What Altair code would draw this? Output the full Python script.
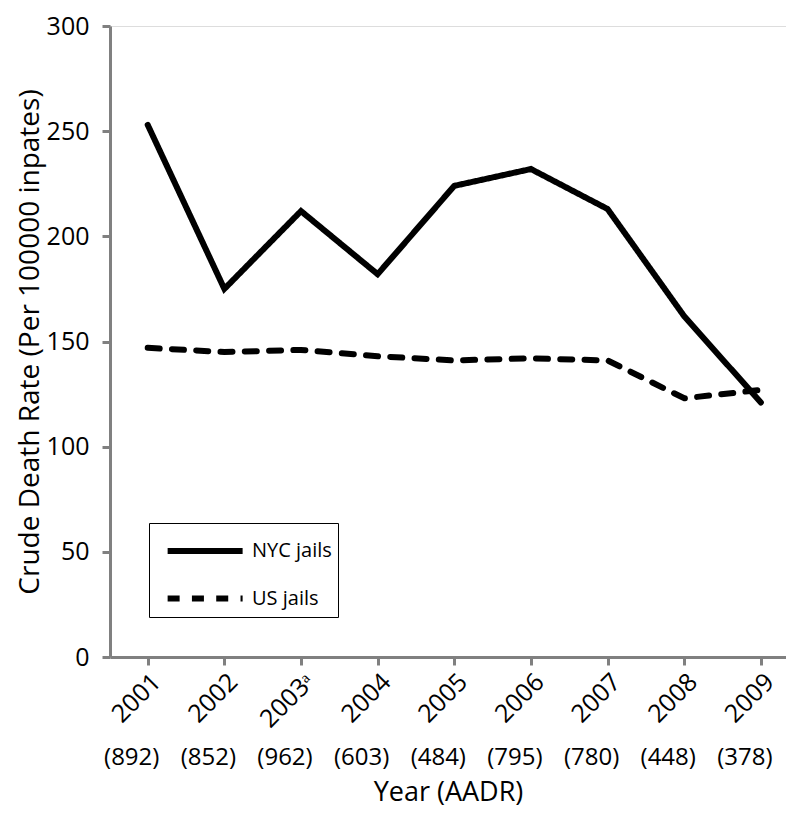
import altair as alt
import pandas as pd

years = ["2001", "2002", "2003ᵃ", "2004", "2005", "2006", "2007", "2008", "2009"]
counts = ["(892)", "(852)", "(962)", "(603)", "(484)", "(795)", "(780)", "(448)", "(378)"]
nyc = [253, 175, 212, 182, 224, 232, 213, 162, 121]
us = [147, 145, 146, 143, 141, 142, 141, 123, 127]
series = ["NYC jails", "US jails"]

rows = []
for y, v in zip(years, nyc):
    rows.append({"year": y, "rate": v, "series": series[0]})
for y, v in zip(years, us):
    rows.append({"year": y, "rate": v, "series": series[1]})
df = pd.DataFrame(rows)
cdf = pd.DataFrame({"year": years, "count": counts})

W, H = 676, 631
font = "Open Sans"

xscale = alt.Scale(domain=years, padding=0.41, align=0.6)

lines = alt.Chart(df).mark_line(color="black", strokeWidth=6, strokeCap="round", strokeJoin="miter").encode(
    x=alt.X("year:N", scale=xscale, sort=years,
            axis=alt.Axis(title="Year (AADR)", labelAngle=-45, labelFont=font, labelFontSize=25,
                          labelColor="black", domainColor="#808080", domainWidth=3, tickColor="#808080",
                          tickWidth=3, tickSize=8, labelPadding=4, titleFont=font, titleFontSize=27,
                          titleFontWeight="normal", titleColor="black", titlePadding=48)),
    y=alt.Y("rate:Q", scale=alt.Scale(domain=[0, 300], nice=False),
            axis=alt.Axis(title="Crude Death Rate (Per 100000 inpates)", values=[0, 50, 100, 150, 200, 250, 300],
                          labelFont=font, labelFontSize=25, labelColor="black", domainColor="#808080",
                          domainWidth=3, tickColor="#808080", tickWidth=3, tickSize=8, labelPadding=13,
                          grid=False, titleFont=font, titleFontSize=28, titleFontWeight="normal",
                          titleColor="black", titlePadding=2)),
    strokeDash=alt.StrokeDash("series:N", scale=alt.Scale(domain=series, range=[[1, 0], [12, 12.3]]),
                              legend=alt.Legend(title=None, orient="none", legendX=39, legendY=497,
                                                symbolType="M-0.5,0L3.5,0", symbolSize=1406, symbolStrokeWidth=6,
                                                symbolStrokeColor="black", labelFont=font,
                                                labelFontSize=20, labelColor="black", rowPadding=13.5,
                                                padding=6, strokeColor="black", fillColor="white",
                                                labelOffset=53, labelExpr="datum.label + '   '")),
)

count_text = alt.Chart(cdf).mark_text(font=font, fontSize=24, color="black", dx=-16).encode(
    x=alt.X("year:N", scale=xscale, sort=years),
    y=alt.value(H + 101),
    text="count:N",
)

chart = alt.layer(lines, count_text).properties(
    width=W, height=H,
    padding={"left": 102, "top": 18, "right": 0, "bottom": 153},
    autosize=alt.AutoSizeParams(type="none"),
).configure_view(stroke=None).configure(background="white")

chart.save("out.html", embed_options={"renderer": "svg", "actions": False})
